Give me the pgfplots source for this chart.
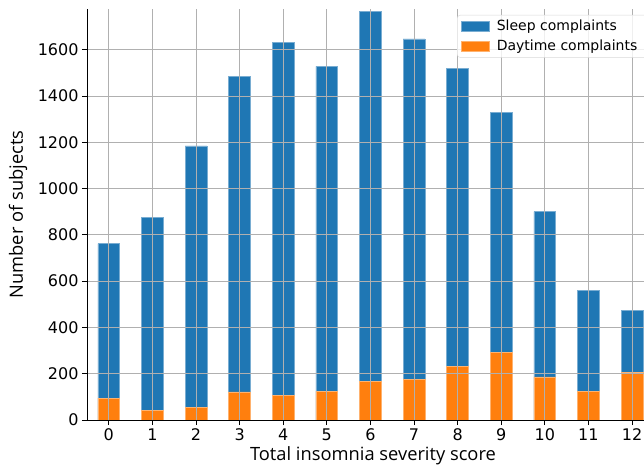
\documentclass[border=0pt]{standalone}
\usepackage{pgfplots}
\pgfplotsset{compat=1.18}
\usepackage{fontspec}
\setmainfont{DejaVu Sans}
\newfontfamily\labelfont{Open Sans}
\definecolor{c1}{HTML}{1F77B4}
\definecolor{c2}{HTML}{FF7F0E}
\definecolor{gridc}{HTML}{B0B0B0}
\pgfplotstableread{
x sleep day
0 762 95
1 874 43
2 1184 56
3 1486 121
4 1630 108
5 1528 125
6 1767 168
7 1647 177
8 1519 232
9 1328 292
10 900 186
11 559 125
12 475 207
}\data
\begin{document}
\begin{tikzpicture}
\path[use as bounding box] (0,0) rectangle (644bp,466bp);
\begin{axis}[
  at={(87bp,46bp)}, anchor=south west,
  scale only axis,
  width=566.8bp, height=411bp,
  xmin=-0.5, xmax=12.5, ymin=0, ymax=1776,
  axis x line*=bottom, axis y line*=left,
  axis line style={black, line width=0.8bp, -},
  axis on top,
  xtick={0,...,12}, ytick={0,200,...,1600},
  tick align=outside, major tick length=5bp,
  tick style={black, line width=0.8bp},
  grid=major, grid style={gridc, line width=0.8bp},
  ticklabel style={font=\fontsize{16bp}{19bp}\selectfont},
  /pgf/number format/assume math mode=true,
  /pgf/number format/1000 sep={},
  xlabel={Total insomnia severity score},
  ylabel={Number of subjects},
  every axis x label/.style={at={(axis description cs:0.5046,-0.087)}, anchor=center, font=\labelfont\fontsize{18.3bp}{21bp}\selectfont},
  every axis y label/.style={at={(axis description cs:-0.1217,0.5)}, anchor=center, rotate=90, font=\labelfont\fontsize{18.3bp}{21bp}\selectfont},
  legend style={at={(axis description cs:0.6528,0.9854)}, anchor=north west,
    font=\fontsize{14bp}{16bp}\selectfont, draw=gray!30, rounded corners=3bp,
    fill=white, fill opacity=0.8, text opacity=1, row sep=4bp, inner xsep=4bp, inner ysep=3bp,
    nodes={inner xsep=7bp}},
  legend cell align=left,
  legend image code/.code={\fill[#1, sharp corners, fill opacity=1] (0bp,-5bp) rectangle (28bp,5bp);},
]
\addplot[ybar, bar width=0.5, bar shift=0pt, fill=c1, draw=c1!60!white, line width=0.6bp] table[x=x,y=sleep]{\data};
\addlegendentry{Sleep complaints}
\addplot[ybar, bar width=0.5, bar shift=0pt, fill=c2, draw=c2!60!white, line width=0.6bp] table[x=x,y=day]{\data};
\addlegendentry{Daytime complaints}
\end{axis}
\end{tikzpicture}
\end{document}
